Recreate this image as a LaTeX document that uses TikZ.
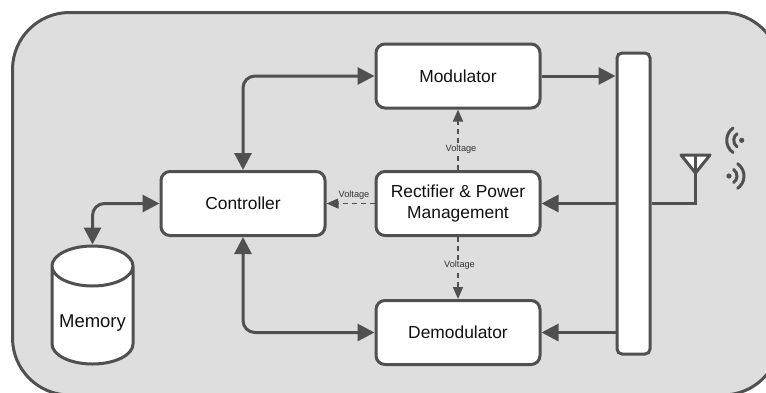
\documentclass[tikz,border=0pt]{standalone}
\usepackage{fontspec}
\setmainfont{Liberation Sans}
\usetikzlibrary{arrows.meta,shapes.geometric}
\definecolor{line}{HTML}{505050}
\definecolor{panel}{HTML}{DEDEDE}
\definecolor{ink}{HTML}{111111}
\definecolor{muted}{HTML}{333333}
\tikzset{
  block/.style={draw=line, fill=white, line width=3pt, rounded corners=9pt, minimum width=164pt, minimum height=64pt, align=center, text=ink, font=\fontsize{17.4}{20.7}\selectfont},
  busbar/.style={draw=line, fill=white, line width=3pt, rounded corners=5pt, minimum width=33pt, minimum height=301pt},
  store/.style={draw=line, fill=white, line width=3pt, cylinder, shape border rotate=90, aspect=6, minimum width=81pt, minimum height=118pt},
  wire/.style={draw=line, line width=3pt},
  link/.style={wire, -{Triangle[length=17pt,width=17pt]}},
  duplex/.style={wire, rounded corners=12pt, {Triangle[length=17pt,width=17pt]}-{Triangle[length=17pt,width=17pt]}},
  power/.style={draw=line, line width=1.7pt, dash pattern=on 5pt off 4pt, -{Triangle[length=12pt,width=10pt]}},
  volt/.style={fill=panel, text=muted, inner sep=1pt, font=\fontsize{9.2}{11}\selectfont},
  wave/.style={draw=line, line width=3pt, line cap=round}
}
\begin{document}
\begin{tikzpicture}[x=1pt,y=-1pt]
\clip (0,0) rectangle (766,392);
% housing
\draw[draw=line, fill=panel, line width=3pt, rounded corners=57pt] (12.5,12.5) rectangle (780,395);
% blocks
\node[block] (modulator) at (458,76) {Modulator};
\node[block] (rectifier) at (458,203.5) {Rectifier \& Power\\Management};
\node[block] (demodulator) at (458,332.5) {Demodulator};
\node[block] (controller) at (243,203.5) {Controller};
\node[busbar] (bus) at (633.5,203.5) {};
\node[store, anchor=north] (memory) at (92.5,244.5) {};
\node[text=ink, font=\fontsize{18.5}{22}\selectfont] (memorytext) at (92.5,323) {Memory};
% data paths
\draw[duplex] (controller.north) |- (modulator.west);
\draw[duplex] (controller.south) |- (demodulator.west);
\draw[duplex] (controller.west) -| (memory.north);
\draw[link] (modulator.east) -- (modulator.east -| bus.west);
\draw[link] (rectifier.east -| bus.west) -- (rectifier.east);
\draw[link] (demodulator.east -| bus.west) -- (demodulator.east);
% supply
\draw[power] (rectifier.north) -- (modulator.south);
\draw[power] (rectifier.south) -- (demodulator.north);
\draw[power] (rectifier.west) -- (controller.east);
\node[volt] (voltup) at (461,149) {Voltage};
\node[volt] (voltdown) at (459.5,265.5) {Voltage};
\node[volt] (voltleft) at (354,195.5) {Voltage};
% antenna
\coordinate (antfoot) at (695.5,203);
\coordinate (anttop) at (695.5,155);
\draw[wire, fill=white, line join=round] (681,155) -- (710,155) -- (695.5,173) -- cycle;
\draw[wire, line join=miter] (bus.east |- antfoot) -- (antfoot) -- (anttop);
% radio waves
\foreach \r in {8,15} {
  \draw[wave] (741.7,140.3) ++(125:\r) arc[start angle=125, end angle=235, radius=\r];
  \draw[wave] (729,176) ++(-55:\r) arc[start angle=-55, end angle=55, radius=\r];
}
\fill[line] (741.7,140.3) circle (2.6);
\fill[line] (729,176) circle (2.6);
\end{tikzpicture}
\end{document}
